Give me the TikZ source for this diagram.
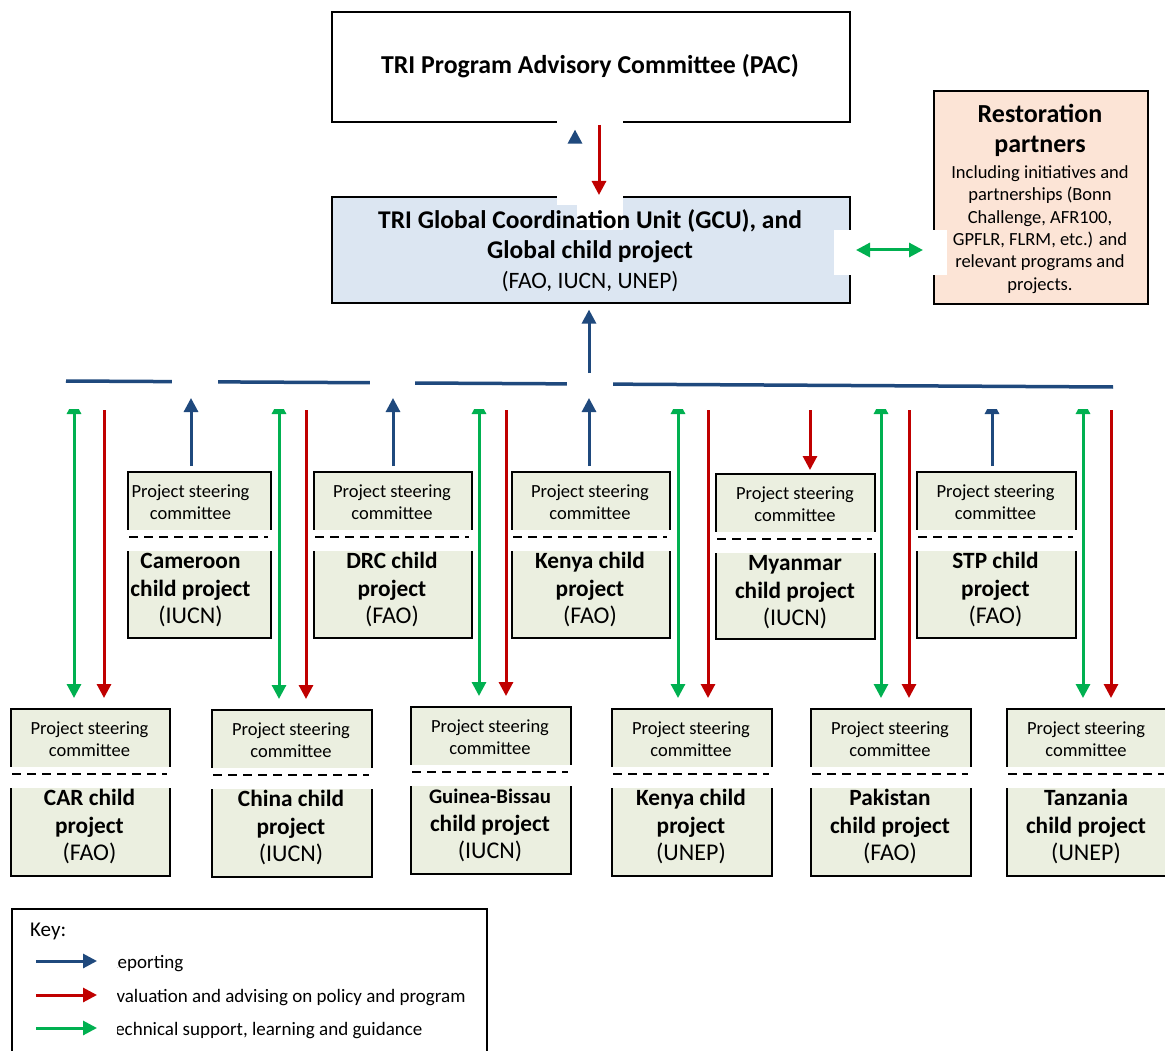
\documentclass[tikz,border=0pt]{standalone}
\usepackage{fontspec}
\setmainfont{Carlito}
\usetikzlibrary{arrows.meta}
\definecolor{rblue}{RGB}{31,73,125}
\definecolor{rred}{RGB}{192,0,0}
\definecolor{rgreen}{RGB}{0,176,80}
\definecolor{boxg}{RGB}{235,239,224}
\definecolor{gcub}{RGB}{220,230,242}
\definecolor{peach}{RGB}{252,228,214}
\tikzset{
  frame/.style={draw=black, line width=1.6pt, inner sep=0pt, anchor=north west},
  txt/.style={inner sep=0pt, anchor=mid, align=center},
  pscfont/.style={txt, font=\fontsize{18.5}{22}\selectfont},
  namefont/.style={txt, font=\fontsize{23.3}{27}\selectfont\bfseries},
  agfont/.style={txt, font=\fontsize{24}{27}\selectfont},
  rep/.style={rblue, line width=3pt, -{Triangle[length=14pt,width=14pt]}},
  eva/.style={rred, line width=3pt, -{Triangle[length=14pt,width=14pt]}},
  tech/.style={rgreen, line width=3pt, {Triangle[length=14pt,width=14pt]}-{Triangle[length=14pt,width=14pt]}},
  dashsep/.style={black, line width=2.6pt, dash pattern=on 9pt off 6pt},
  keytxt/.style={inner sep=0pt, anchor=mid west, font=\fontsize{19}{22}\selectfont}
}
% #1 name, #2 x, #3 y, #4 w, #5 h, #6 bold line 1, #7 bold line 2, #8 agency, #9 text centre x
\newcommand\cpbox[9]{%
  \node[frame, fill=boxg, minimum width=#4pt, minimum height=#5pt] (#1) at (#2,#3) {};
  \fill[white] (#2-9,#3+59) rectangle (#2+#4+9,#3+80);
  \draw[dashsep] (#2+2,#3+66) -- (#2+#4-2,#3+66);
  \node[pscfont] (#1-a) at (#9,#3+24.5) {Project steering};
  \node[pscfont] (#1-b) at (#9,#3+46.5) {committee};
  \node[namefont] (#1-c) at (#9,#3+95) {#6};
  \node[namefont] (#1-d) at (#9,#3+123) {#7};
  \node[agfont] (#1-e) at (#9,#3+150) {#8};
}
\begin{document}
\begin{tikzpicture}[x=1pt,y=-1pt]
\useasboundingbox[fill=white] (0,0) rectangle (1165,1051);

% top boxes
\node[frame, fill=white, minimum width=518pt, minimum height=110pt] (pac) at (331,11) {};
\node[frame, fill=gcub, minimum width=518pt, minimum height=106pt] (gcu) at (331,196) {};
\node[frame, fill=peach, minimum width=214pt, minimum height=213pt] (rp) at (933,90) {};

% PAC - GCU connectors
\fill[white] (557,118) rectangle (577,205);
\fill[white] (577,118) rectangle (623,230);
\coordinate (gcurep) at (575,142);
\draw[rep, shorten >=7pt] (gcurep) -- (gcurep |- pac.south);
\coordinate (paceva) at (599,125);
\draw[eva, shorten >=1pt] (paceva) -- (paceva |- gcu.north);

% GCU - partners
\fill[white] (834,230) rectangle (947,275);
\coordinate (gp1) at (856,250);
\coordinate (gp2) at (923,250);
\draw[tech] (gp1) -- (gp2);

% texts of top boxes
\node[txt, font=\fontsize{25.8}{30}\selectfont\bfseries] (pact) at (590,71) {TRI Program Advisory Committee (PAC)};
\node[txt, font=\fontsize{25.5}{30}\selectfont\bfseries] (gcut1) at (590,226) {TRI Global Coordination Unit (GCU), and};
\node[txt, font=\fontsize{25.5}{30}\selectfont\bfseries] (gcut2) at (590,256) {Global child project};
\node[txt, font=\fontsize{23.5}{28}\selectfont] (gcut3) at (590,286) {(FAO, IUCN, UNEP)};
\node[txt, font=\fontsize{26}{30}\selectfont\bfseries] (rpt1) at (1040,120) {Restoration};
\node[txt, font=\fontsize{26}{30}\selectfont\bfseries] (rpt2) at (1040,150) {partners};
\node[pscfont] (rpt3) at (1040,176.5) {Including initiatives and};
\node[pscfont] (rpt4) at (1040,198.5) {partnerships (Bonn};
\node[pscfont] (rpt5) at (1040,221.5) {Challenge, AFR100,};
\node[pscfont] (rpt6) at (1040,243.5) {GPFLR, FLRM, etc.) and};
\node[pscfont] (rpt7) at (1040,265.5) {relevant programs and};
\node[pscfont] (rpt8) at (1040,288.5) {projects.};

% row 1 boxes
\cpbox{cam}{127}{471}{143}{166}{Cameroon}{child project}{(IUCN)}{190.5}
\cpbox{drc}{313}{471}{158}{166}{DRC child}{project}{(FAO)}{392}
\cpbox{ken}{511}{471}{158}{166}{Kenya child}{project}{(FAO)}{590}
\cpbox{mya}{715}{473}{159}{165}{Myanmar}{child project}{(IUCN)}{795}
\cpbox{stp}{916}{471}{159}{166}{STP child}{project}{(FAO)}{995.5}

% row 2 boxes
\cpbox{car}{10}{708}{159}{167}{CAR child}{project}{(FAO)}{89.5}
\cpbox{chn}{211}{709}{160}{167}{China child}{project}{(IUCN)}{291}
\cpbox{gb}{410}{706}{160}{167}{{\fontsize{20.7}{24}\selectfont Guinea-Bissau}}{child project}{(IUCN)}{490}
\cpbox{ken2}{611}{708}{160}{167}{Kenya child}{project}{(UNEP)}{691}
\cpbox{pak}{810}{708}{160}{167}{Pakistan}{child project}{(FAO)}{890}
\cpbox{tza}{1006}{708}{160}{167}{Tanzania}{child project}{(UNEP)}{1086}

% horizontal reporting line
\coordinate (hl1) at (66,381);
\coordinate (hl2) at (1113,387);
\draw[rblue, line width=3.5pt] (hl1) -- (hl2);

% green (two-way) and red arrows to row 2
\foreach \gx/\rx/\bx in {74/104/car, 279/306/chn, 479/506/gb, 678/708/ken2, 881/909/pak, 1083/1111/tza}{
  \coordinate (g-\bx) at (\gx,400);
  \coordinate (r-\bx) at (\rx,410);
  \draw[tech, shorten >=10pt] (g-\bx) -- (g-\bx |- \bx.north);
  \draw[eva, shorten >=10pt] (r-\bx) -- (r-\bx |- \bx.north);
}
% STP reporting arrow (head hidden by the band)
\coordinate (ls) at (992,400);
\draw[rep, shorten <=5pt] (ls |- stp.north) -- (ls);

% white band below the line, and gaps at the reporting arrows
\fill[white] (60,390) rectangle (1125,408.5);
\fill[white] (172,376) rectangle (218,466);
\fill[white] (370,376) rectangle (415,466);
\fill[white] (567,375) rectangle (613,466);

% reporting arrows from row 1
\coordinate (lc) at (191,398);
\draw[rep, shorten <=5pt] (lc |- cam.north) -- (lc);
\coordinate (ld) at (393,398);
\draw[rep, shorten <=5pt] (ld |- drc.north) -- (ld);
\coordinate (lk) at (589,398);
\draw[rep, shorten <=5pt] (lk |- ken.north) -- (lk);
\coordinate (lm) at (810,410);
\draw[eva, shorten >=3pt] (lm) -- (lm |- mya.north);

% line to GCU
\coordinate (lg) at (589,373);
\draw[rep, shorten >=6pt] (lg) -- (lg |- gcu.south);

% key
\node[frame, fill=white, minimum width=475pt, minimum height=170pt] (key) at (11,908) {};
\node[keytxt, font=\fontsize{21}{24}\selectfont] (keyt) at (30,934) {Key:};
\coordinate (k1a) at (36,961); \coordinate (k1b) at (97,961);
\coordinate (k2a) at (36,995); \coordinate (k2b) at (97,995);
\coordinate (k3a) at (36,1028); \coordinate (k3b) at (97,1028);
\draw[rep] (k1a) -- (k1b);
\draw[eva] (k2a) -- (k2b);
\draw[rgreen, line width=3pt, -{Triangle[length=14pt,width=14pt]}] (k3a) -- (k3b);
\node[keytxt] (k1t) at (107.5,966) {Reporting};
\node[keytxt] (k2t) at (107.5,1000) {Evaluation and advising on policy and program};
\node[keytxt] (k3t) at (107.5,1033) {Technical support, learning and guidance};
\fill[white] (101,948) rectangle (116.5,1045);
\end{tikzpicture}
\end{document}
